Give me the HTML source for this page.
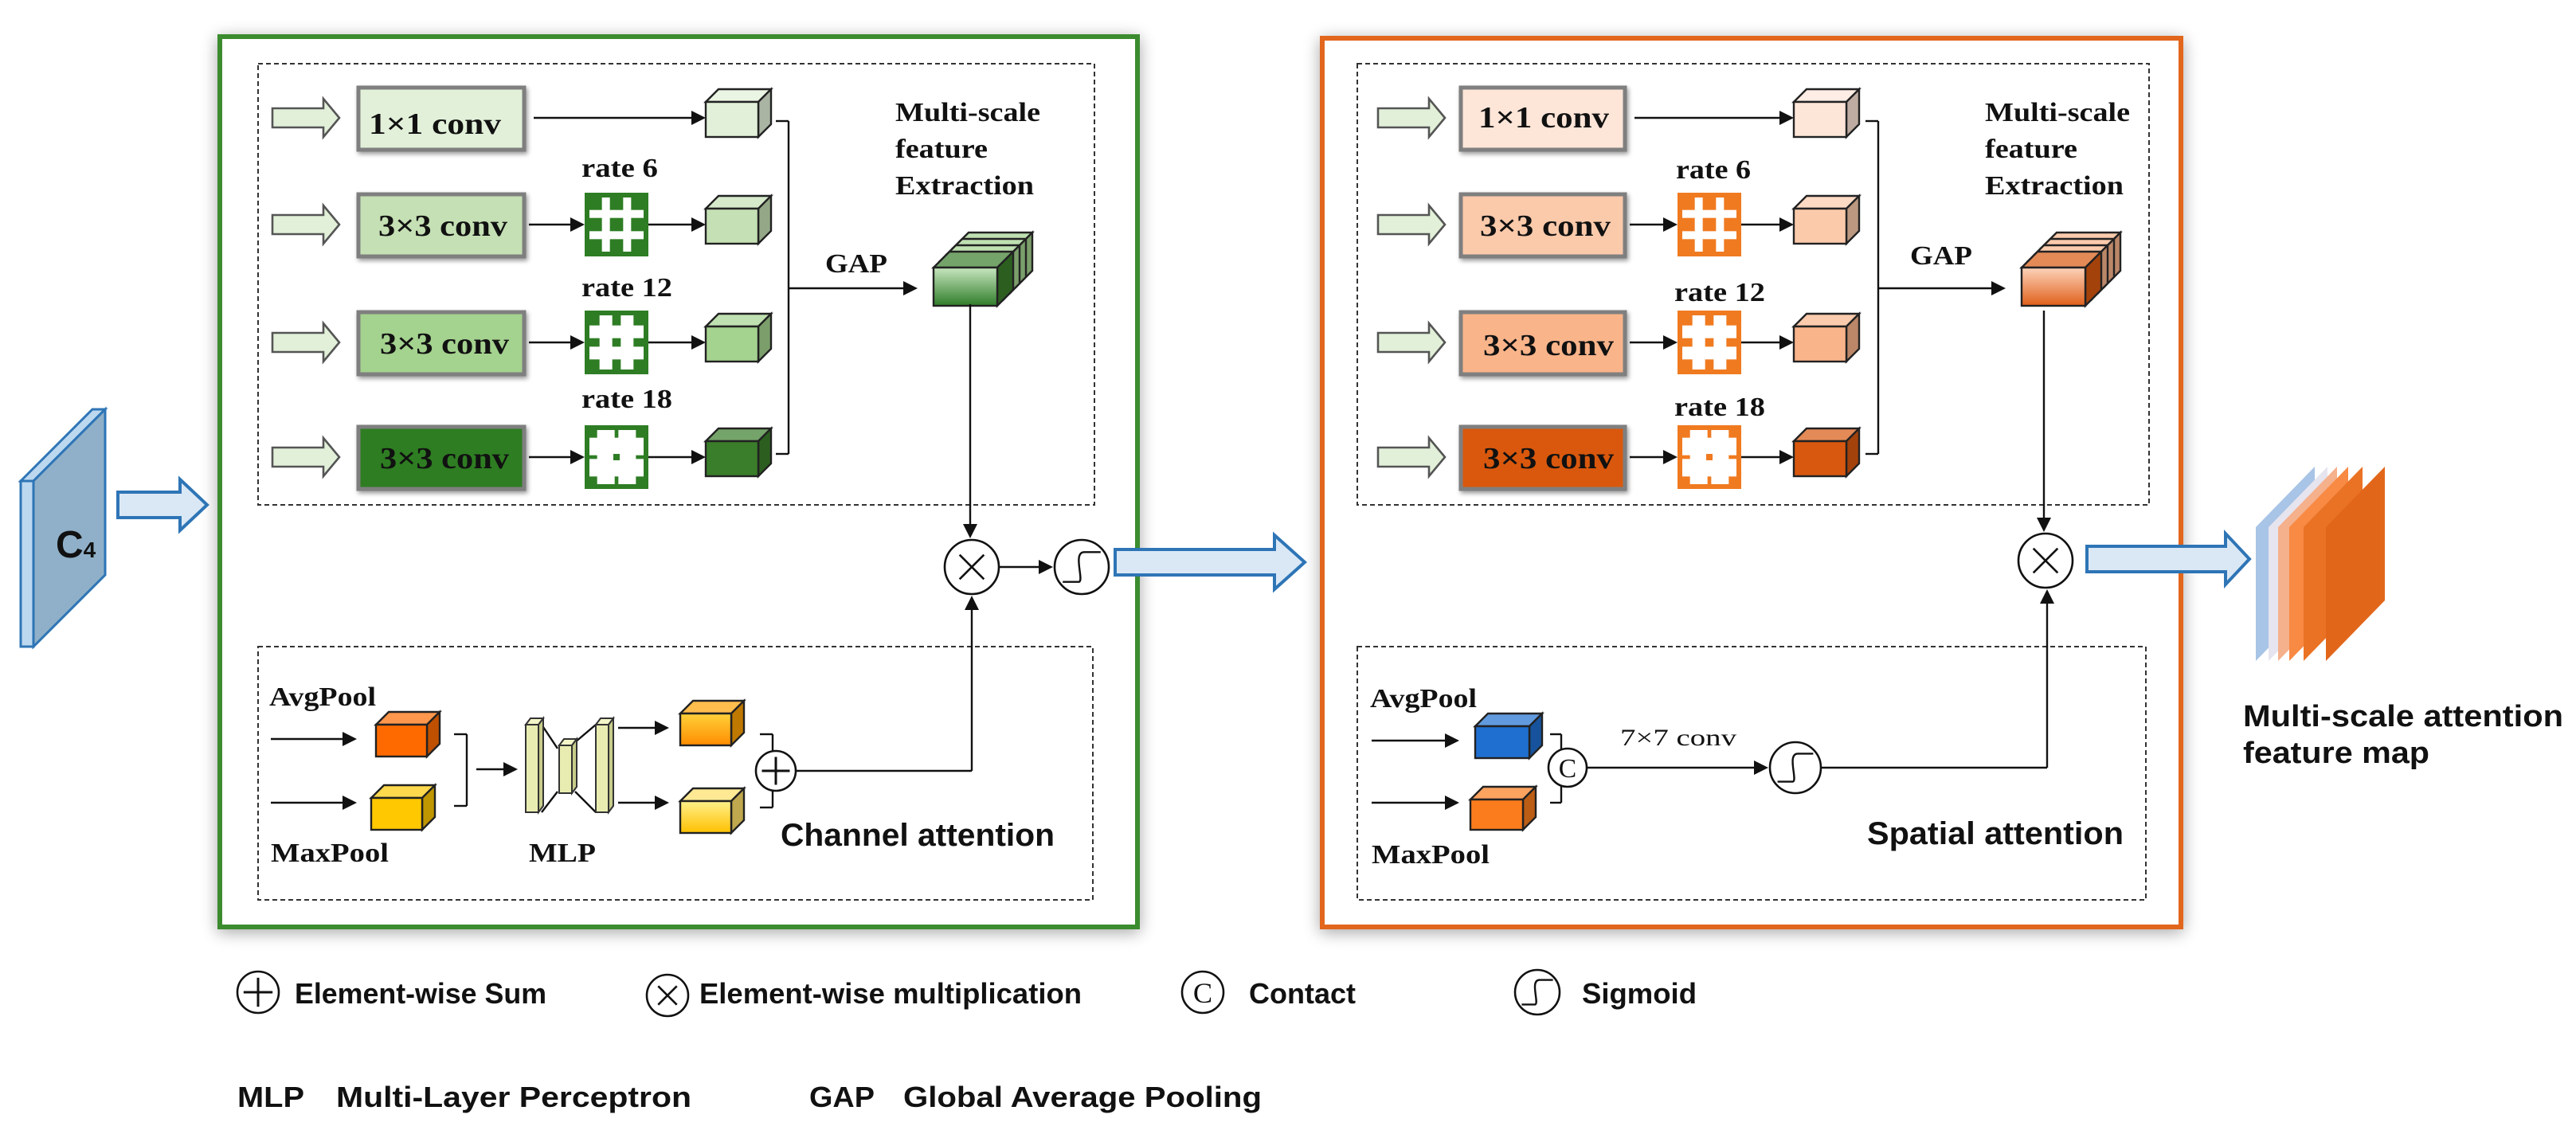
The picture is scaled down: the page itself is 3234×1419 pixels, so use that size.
<!DOCTYPE html>
<html><head><meta charset="utf-8"><style>
html,body{margin:0;padding:0;background:#fff;}
svg{display:block;}
.sf{font-family:"Liberation Serif",serif;font-weight:bold;fill:#111;}
.ss{font-family:"Liberation Sans",sans-serif;font-weight:bold;fill:#111;}
</style></head><body>
<svg id="s" xmlns="http://www.w3.org/2000/svg" width="3234" height="1419" viewBox="0 0 1617 709.5">
<defs>
<filter id="sh" x="-5%" y="-5%" width="110%" height="110%"><feGaussianBlur in="SourceAlpha" stdDeviation="5"/><feOffset dx="0" dy="2"/><feComponentTransfer><feFuncA type="linear" slope="0.35"/></feComponentTransfer><feMerge><feMergeNode/><feMergeNode in="SourceGraphic"/></feMerge></filter>
<filter id="sh2" x="-10%" y="-10%" width="120%" height="130%"><feGaussianBlur in="SourceAlpha" stdDeviation="1.5"/><feOffset dx="1" dy="1.5"/><feComponentTransfer><feFuncA type="linear" slope="0.4"/></feComponentTransfer><feMerge><feMergeNode/><feMergeNode in="SourceGraphic"/></feMerge></filter>
<linearGradient id="gg" x1="0" y1="0" x2="0" y2="1"><stop offset="0" stop-color="#c8e6bf"/><stop offset="1" stop-color="#2f7d2a"/></linearGradient>
<linearGradient id="og" x1="0" y1="0" x2="0" y2="1"><stop offset="0" stop-color="#fcd3bb"/><stop offset="1" stop-color="#e0601a"/></linearGradient>
<linearGradient id="oy" x1="0" y1="0" x2="0" y2="1"><stop offset="0" stop-color="#ffd23a"/><stop offset="1" stop-color="#ff8c00"/></linearGradient>
<linearGradient id="yy" x1="0" y1="0" x2="0" y2="1"><stop offset="0" stop-color="#fff08a"/><stop offset="1" stop-color="#ffc000"/></linearGradient>
</defs>
<g id="g"></g>

<text class="ss" x="35" y="350" font-size="24">C<tspan font-size="14">4</tspan></text>

<text class="sf" x="273" y="84" font-size="19" text-anchor="middle" textLength="83" lengthAdjust="spacingAndGlyphs">1×1 conv</text>
<text class="sf" x="278" y="148" font-size="19" text-anchor="middle" textLength="81" lengthAdjust="spacingAndGlyphs">3×3 conv</text>
<text class="sf" x="279" y="222" font-size="19" text-anchor="middle" textLength="81" lengthAdjust="spacingAndGlyphs">3×3 conv</text>
<text class="sf" x="279" y="294" font-size="19" text-anchor="middle" textLength="81" lengthAdjust="spacingAndGlyphs">3×3 conv</text>
<text class="sf" x="365" y="111" font-size="17" textLength="48" lengthAdjust="spacingAndGlyphs">rate 6</text>
<text class="sf" x="365" y="186" font-size="17" textLength="57" lengthAdjust="spacingAndGlyphs">rate 12</text>
<text class="sf" x="365" y="256" font-size="17" textLength="57" lengthAdjust="spacingAndGlyphs">rate 18</text>
<text class="sf" x="562" y="76" font-size="17" textLength="91" lengthAdjust="spacingAndGlyphs">Multi-scale</text>
<text class="sf" x="562" y="99" font-size="17" textLength="58" lengthAdjust="spacingAndGlyphs">feature</text>
<text class="sf" x="562" y="122" font-size="17" textLength="87" lengthAdjust="spacingAndGlyphs">Extraction</text>
<text class="sf" x="518" y="171" font-size="17" textLength="39" lengthAdjust="spacingAndGlyphs">GAP</text>
<text class="sf" x="169" y="443" font-size="17" textLength="67" lengthAdjust="spacingAndGlyphs">AvgPool</text>
<text class="sf" x="170" y="541" font-size="17" textLength="74" lengthAdjust="spacingAndGlyphs">MaxPool</text>
<text class="sf" x="332" y="541" font-size="17" textLength="42" lengthAdjust="spacingAndGlyphs">MLP</text>
<text class="ss" x="490" y="531" font-size="20" textLength="172" lengthAdjust="spacingAndGlyphs">Channel attention</text>

<text class="sf" x="969" y="80" font-size="19" text-anchor="middle" textLength="82" lengthAdjust="spacingAndGlyphs">1×1 conv</text>
<text class="sf" x="970" y="148" font-size="19" text-anchor="middle" textLength="82" lengthAdjust="spacingAndGlyphs">3×3 conv</text>
<text class="sf" x="972" y="223" font-size="19" text-anchor="middle" textLength="82" lengthAdjust="spacingAndGlyphs">3×3 conv</text>
<text class="sf" x="972" y="294" font-size="19" text-anchor="middle" textLength="82" lengthAdjust="spacingAndGlyphs">3×3 conv</text>
<text class="sf" x="1052" y="112" font-size="17" textLength="47" lengthAdjust="spacingAndGlyphs">rate 6</text>
<text class="sf" x="1051" y="189" font-size="17" textLength="57" lengthAdjust="spacingAndGlyphs">rate 12</text>
<text class="sf" x="1051" y="261" font-size="17" textLength="57" lengthAdjust="spacingAndGlyphs">rate 18</text>
<text class="sf" x="1246" y="76" font-size="17" textLength="91" lengthAdjust="spacingAndGlyphs">Multi-scale</text>
<text class="sf" x="1246" y="99" font-size="17" textLength="58" lengthAdjust="spacingAndGlyphs">feature</text>
<text class="sf" x="1246" y="122" font-size="17" textLength="87" lengthAdjust="spacingAndGlyphs">Extraction</text>
<text class="sf" x="1199" y="166" font-size="17" textLength="39" lengthAdjust="spacingAndGlyphs">GAP</text>
<text class="sf" x="860" y="444" font-size="17" textLength="67" lengthAdjust="spacingAndGlyphs">AvgPool</text>
<text class="sf" x="861" y="542" font-size="17" textLength="74" lengthAdjust="spacingAndGlyphs">MaxPool</text>
<text x="1017" y="468" font-size="15" font-family="Liberation Serif, serif" fill="#111" textLength="73" lengthAdjust="spacingAndGlyphs">7×7 conv</text>
<text class="ss" x="1172" y="530" font-size="20" textLength="161" lengthAdjust="spacingAndGlyphs">Spatial attention</text>

<text class="ss" x="1408" y="456" font-size="19" textLength="201" lengthAdjust="spacingAndGlyphs">Multi-scale attention</text>
<text class="ss" x="1408" y="479" font-size="19" textLength="117" lengthAdjust="spacingAndGlyphs">feature map</text>

<text class="ss" x="185" y="630" font-size="18" textLength="158" lengthAdjust="spacingAndGlyphs">Element-wise Sum</text>
<text class="ss" x="439" y="630" font-size="18" textLength="240" lengthAdjust="spacingAndGlyphs">Element-wise multiplication</text>
<text class="ss" x="784" y="630" font-size="18" textLength="67" lengthAdjust="spacingAndGlyphs">Contact</text>
<text class="ss" x="993" y="630" font-size="18" textLength="72" lengthAdjust="spacingAndGlyphs">Sigmoid</text>
<text class="ss" x="149" y="695" font-size="18" textLength="42" lengthAdjust="spacingAndGlyphs">MLP</text>
<text class="ss" x="211" y="695" font-size="18" textLength="223" lengthAdjust="spacingAndGlyphs">Multi-Layer Perceptron</text>
<text class="ss" x="508" y="695" font-size="18" textLength="41" lengthAdjust="spacingAndGlyphs">GAP</text>
<text class="ss" x="567" y="695" font-size="18" textLength="225" lengthAdjust="spacingAndGlyphs">Global Average Pooling</text>
</svg>
<script>
var o='';
function P(pts,f,s,w,extra){o+='<polygon points="'+pts.map(function(p){return p.join(',')}).join(' ')+'" fill="'+f+'" stroke="'+(s||'none')+'" stroke-width="'+(w||1)+'" '+(extra||'')+'/>';}
function R(x,y,w,h,f,s,sw,extra){o+='<rect x="'+x+'" y="'+y+'" width="'+w+'" height="'+h+'" fill="'+f+'" stroke="'+(s||'none')+'" stroke-width="'+(sw||1)+'" '+(extra||'')+'/>';}
function L(x1,y1,x2,y2,w,c){o+='<line x1="'+x1+'" y1="'+y1+'" x2="'+x2+'" y2="'+y2+'" stroke="'+(c||'#111')+'" stroke-width="'+(w||1.2)+'"/>';}
function A(x1,y1,x2,y2,w){var dx=x2-x1,dy=y2-y1,l=Math.sqrt(dx*dx+dy*dy),ux=dx/l,uy=dy/l,h=9,hw=4.5;
 L(x1,y1,x2-ux*h,y2-uy*h,w||1.2);
 P([[x2,y2],[x2-ux*h-uy*hw,y2-uy*h+ux*hw],[x2-ux*h+uy*hw,y2-uy*h-ux*hw]],'#111');}
function C(cx,cy,r){o+='<circle cx="'+cx+'" cy="'+cy+'" r="'+r+'" fill="#fff" stroke="#111" stroke-width="1.3"/>';}
function X(cx,cy,r){C(cx,cy,r);var k=r*0.45;L(cx-k,cy-k,cx+k,cy+k,1.3);L(cx-k,cy+k,cx+k,cy-k,1.3);}
function PL(cx,cy,r){C(cx,cy,r);L(cx-r*0.7,cy,cx+r*0.7,cy,1.5);L(cx,cy-r*0.7,cx,cy+r*0.7,1.5);}
function S(cx,cy,r){C(cx,cy,r);o+='<path d="M'+(cx-r*0.7)+','+(cy+r*0.55)+' L'+(cx-r*0.1)+','+(cy+r*0.55)+' C'+(cx+r*0.1)+','+(cy+r*0.5)+' '+(cx-r*0.35)+','+(cy-r*0.55)+' '+(cx+r*0.1)+','+(cy-r*0.55)+' L'+(cx+r*0.7)+','+(cy-r*0.55)+'" fill="none" stroke="#111" stroke-width="1.2"/>';}
function CC(cx,cy,r){C(cx,cy,r);o+='<text x="'+cx+'" y="'+(cy+r*0.5)+'" font-size="'+(r*1.4)+'" font-family="Liberation Serif,serif" text-anchor="middle" fill="#111">C</text>';}
function shade(hex,f){var n=parseInt(hex.slice(1),16),r=n>>16,g=(n>>8)&255,b=n&255;
 function t(v){return Math.max(0,Math.min(255,Math.round(f>0?v+(255-v)*f:v*(1+f))));}
 return 'rgb('+t(r)+','+t(g)+','+t(b)+')';}
function cube(x,y,w,h,d,f,front){var ff=front||f;
 P([[x,y],[x+d,y-d],[x+w+d,y-d],[x+w,y]],shade(f,0.3),'#222',1.2);
 P([[x+w,y],[x+w+d,y-d],[x+w+d,y+h-d],[x+w,y+h]],shade(f,-0.25),'#222',1.2);
 R(x,y,w,h,ff,'#222',1.2);}
function blk(x,yc,len,f,s){var sh=6,hh=12,hl=10;
 P([[x,yc-sh],[x+len-hl,yc-sh],[x+len-hl,yc-hh],[x+len,yc],[x+len-hl,yc+hh],[x+len-hl,yc+sh],[x,yc+sh]],f,s,1.3);}
// rate box: colored square with white "#" bars; bw = bar width
function rate(x,y,s,col,bw){R(x,y,s,s,col);
 var m=3,p1=x+s/3,p2=x+2*s/3;
 R(p1-bw/2,y+m,bw,s-2*m,'#fff');R(p2-bw/2,y+m,bw,s-2*m,'#fff');
 R(x+m,y+s/3-bw/2,s-2*m,bw,'#fff');R(x+m,y+2*s/3-bw/2,s-2*m,bw,'#fff');
 if(bw>8){var c=s/2,k=Math.max(2,(s/3-bw)/2);R(x+c-k,y+c-k,2*k,2*k,col);}
 R(x+1.5,y+1.5,s-3,s-3,'none',col,3);}

R(138,23,576,559,'#fff','#3a8c2f',3,'filter="url(#sh)"');
R(830,24,539,558,'#fff','#e2661a',3,'filter="url(#sh)"');
R(162,40,525,277,'none','#333',1,'stroke-dasharray="3 2"');
R(162,406,524,159,'none','#333',1,'stroke-dasharray="3 2"');
R(852,40,497,277,'none','#333',1,'stroke-dasharray="3 2"');
R(852,406,495,159,'none','#333',1,'stroke-dasharray="3 2"');

P([[13,302],[58,257],[66,257],[21,302]],'#bcd8ef','#2e75b6',1.5);
R(13,302,8,104,'#bcd8ef','#2e75b6',1.5);
P([[21,302],[66,257],[66,361],[21,406]],'#8fb0c8','#2e75b6',1.5);
function bigA(x1,x2,yc,sh,hh,hl){P([[x1,yc-sh],[x2-hl,yc-sh],[x2-hl,yc-hh],[x2,yc],[x2-hl,yc+hh],[x2-hl,yc+sh],[x1,yc+sh]],'#dae8f5','#2e75b6',2);}
bigA(74,130,317,8,16,17);
bigA(700,819,353,8,17,19);
bigA(1310,1412,351,8,16,15);

// output stack
var ly=[[1416,'#a8c4e6'],[1424,'#e6e4ee'],[1430,'#f5b08c'],[1437,'#f88a44'],[1446,'#ea7224'],[1460,'#e2661a']];
ly.forEach(function(a){var x=a[0];P([[x,331],[x+37,293],[x+37,377],[x,415]],a[1]);});

var rowsY=[74,141,215,287];
function panel(arrowX,boxX,boxW,rateX,cubeX,brX,gapX,colsBox,colsCube,rcol,stackFill){
 for(var i=0;i<4;i++){var yc=rowsY[i];
  blk(arrowX,yc,42,'#e2f0d9','#555');
  R(boxX,yc-19,boxW,39,colsBox[i],'#7f7f7f',2.5,'filter="url(#sh2)"');
  if(i==0){A(boxX+boxW+6,yc,cubeX,yc);}
  else{A(boxX+boxW+3,yc,rateX,yc);rate(rateX,yc-20,40,rcol,[0,5,8,11][i]);A(rateX+40,yc,cubeX,yc);}
  cube(cubeX,yc-10,33,22,8,colsCube[i]);
 }
 L(brX-8,76,brX,76);L(brX,76,brX,285);L(brX-8,285,brX,285);
 A(brX,181,gapX,181);
 for(var k=3;k>=0;k--){var sx=gapX+10+k*4,sy=168-k*4;cube(sx,sy,40,24,10,k==0?colsCube[3]:colsCube[2],k==0?stackFill:undefined);}
}
panel(171,225,104,367,443,495,576,['#e2f0d9','#c5e0b4','#a4d28f','#2f7d24'],['#e2f0d9','#c5e0b4','#a4d28f','#3a7d2a'],'#2e7d24','url(#gg)');
panel(865,917,103,1053,1126,1179,1259,['#fde5d8','#fbcaab','#f9b48a','#d9580f'],['#fde5d8','#fbcaab','#f9b48a','#d9580f'],'#f07a20','url(#og)');

A(609,191,609,338);X(610,356,17);A(627,356,661,356);S(679,356,17);
A(170,464,224,464);A(170,504,224,504);
cube(236,455,32,20,8,'#ff6a00');cube(233,501,32,20,8,'#ffc800');
L(285,461,293,461);L(293,461,293,506);L(285,506,293,506);A(299,483,325,483);
function bar(x,y,w,h){P([[x,y],[x+3,y-4],[x+w+3,y-4],[x+w,y]],'#f4f6c8','#333',1);P([[x+w,y],[x+w+3,y-4],[x+w+3,y+h-4],[x+w,y+h]],'#c7cc8a','#333',1);R(x,y,w,h,'#e8ecb0','#333',1);}
L(340,455,350,470);L(340,510,350,497);L(361,466,374,455);L(361,497,374,510);
bar(330,455,8,55);bar(351,468,8,30);bar(374,455,8,55);
A(388,457,420,457);A(388,504,420,504);
cube(427,448,32,20,8,'#ffa000','url(#oy)');cube(427,503,32,20,8,'#ffe066','url(#yy)');
L(477,461,485,461);L(485,461,485,507);L(477,507,485,507);
PL(487,484,12.5);L(500,484,610,484);A(610,484,610,374);

A(1283,195,1283,334);X(1284,352,17);
A(861,465,916,465);A(861,504,916,504);
cube(926,456,34,20,8,'#1f6fd0');cube(923,502,33,19,8,'#fb7c1c');
L(973,461,980,461);L(980,461,980,504);L(973,504,980,504);
CC(984,482,12);A(996,482,1110,482);S(1127,482,16);
L(1143,482,1285,482);A(1285,482,1285,370);

PL(162,623,13);X(419,625,13);CC(755,623,13);S(965,623,14);

document.getElementById('g').innerHTML=o;
</script>
</body></html>
